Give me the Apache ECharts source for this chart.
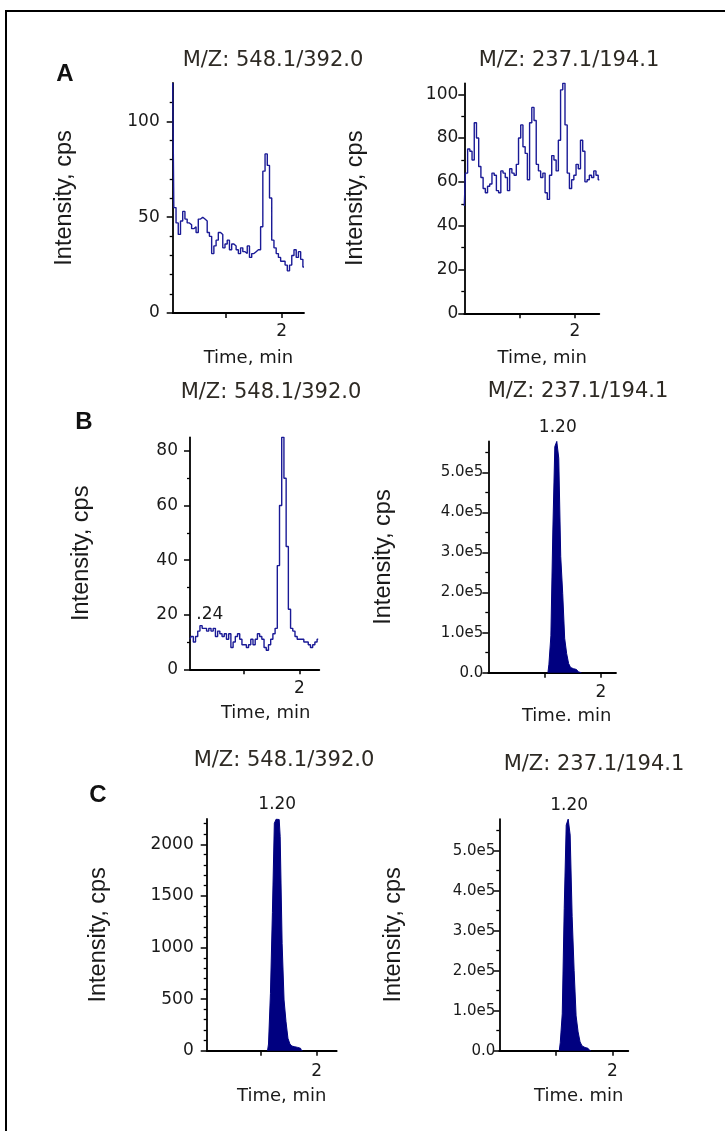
<!DOCTYPE html>
<html>
<head>
<meta charset="utf-8">
<script src="https://cdn.jsdelivr.net/npm/echarts@6/dist/echarts.min.js"></script>
<style>
  html, body { margin: 0; background: #fff; }
  #chart { width: 725px; height: 1131px; }
</style>
</head>
<body>
<div id="chart"></div>
<script>
// sampled chromatogram traces (intensity, cps), time in min
const aLeftStart = 0.04, aLeftStep = 0.04;
const aLeftIntensity = [120, 55, 47, 41, 48, 53, 49, 47, 46, 44, 45, 42, 49, 50, 49, 48, 42, 40, 31, 35,
  38, 42, 41, 34, 36, 38, 33, 36, 35, 33, 31, 34, 32, 31, 35, 29, 31, 32, 33, 33,
  45, 74, 83, 77, 60, 38, 34, 31, 29, 27, 27, 25, 22, 25, 30, 33, 29, 32, 28, 24];

const aRightStart = 0, aRightStep = 0.04;
const aRightIntensity = [49, 64, 75, 74, 70, 87, 80, 67, 62, 57, 55, 58, 59, 64, 63, 56, 55, 65, 64, 62,
  56, 66, 64, 63, 68, 80, 86, 76, 73, 61, 87, 94, 88, 68, 65, 62, 64, 55, 52, 63,
  72, 70, 65, 79, 102, 105, 86, 64, 57, 61, 63, 68, 66, 79, 74, 60, 61, 63, 62, 65, 63, 61];

const bLeftStart = 0.02, bLeftStep = 0.04;
const bLeftIntensity = [11, 12, 10, 12, 14, 16, 15, 15, 14, 15, 14, 15, 12, 14, 13, 12, 13, 11, 13, 8,
  10, 12, 13, 11, 9, 9, 8, 9, 11, 9, 11, 13, 12, 11, 8, 7, 9, 11, 13, 15,
  38, 60, 85, 70, 45, 22, 15, 14, 12, 11, 11, 11, 10, 10, 9, 8, 9, 10, 11];

const bRightStart = 1.06, bRightStep = 0.035;
const bRightIntensity = [0, 2.1e4, 9.2e4, 3.56e5, 5.64e5, 5.77e5, 5.35e5, 2.9e5, 1.98e5, 8.6e4,
  4.8e4, 2.3e4, 1.3e4, 1.0e4, 8e3, 4e3, 2e3, 0];

const cLeftStart = 1.115, cLeftStep = 0.035;
const cLeftIntensity = [0, 65, 556, 1338, 2204, 2245, 2240, 2074, 1040, 491, 281, 120, 65, 45, 38, 32, 28, 23, 0];

const cRightStart = 1.06, cRightStep = 0.035;
const cRightIntensity = [0, 2.0e4, 9.2e4, 3.56e5, 5.64e5, 5.79e5, 5.39e5, 3.35e5, 2.0e5, 8.7e4,
  4.7e4, 2.2e4, 1.2e4, 8e3, 6e3, 3e3, 0];

// axis ticks
const timeTicks = [1, 2];
const timeLabels = [2];
const ticksA1 = [0, 50, 100];
const ticksA2 = [0, 20, 40, 60, 80, 100];
const ticksB1 = [0, 20, 40, 60, 80];
const ticksE5 = [0, 1e5, 2e5, 3e5, 4e5, 5e5];
const ticksC1 = [0, 500, 1000, 1500, 2000];

const titleLeft = "M/Z: 548.1/392.0";
const titleRight = "M/Z: 237.1/194.1";

const toPairs = (t0, dt, vals) => vals.map((v, i) => [+(t0 + i * dt).toFixed(3), v]);
const e5 = (v) => (v ? (v / 1e5).toFixed(1) + "e5" : "0.0");

const panels = [
  { grid: { left: 172.7, top: 83, width: 131.3, height: 230 }, x: [0.04, 2.40], yMax: 120, ticks: ticksA1, minor: 5,
    data: toPairs(aLeftStart, aLeftStep, aLeftIntensity), fill: false, labelMargin: 13, labelSize: 17, nameGap: 96,
    xName: "Time, min", xShift: 20, xNameGap: 36, xLabelMargin: 10 },
  { grid: { left: 464.3, top: 83.3, width: 135, height: 230 }, x: [0, 2.44], yMax: 105, ticks: ticksA2, minor: 2,
    data: toPairs(aRightStart, aRightStep, aRightIntensity), fill: false, labelMargin: 6, labelSize: 17, nameGap: 97,
    xName: "Time, min", xShift: 21, xNameGap: 36, xLabelMargin: 10 },
  { grid: { left: 190, top: 437.3, width: 129.3, height: 232 }, x: [0.02, 2.36], yMax: 85, ticks: ticksB1, minor: 2,
    data: toPairs(bLeftStart, bLeftStep, bLeftIntensity), fill: false, labelMargin: 12, labelSize: 17, nameGap: 96,
    xName: "Time, min", xShift: 22, xNameGap: 35, xLabelMargin: 11, note: { index: 9, text: ".24" } },
  { grid: { left: 488.3, top: 441.4, width: 127.7, height: 231.3 }, x: [0, 2.27], yMax: 5.77e5, ticks: ticksE5, minor: 2,
    data: toPairs(bRightStart, bRightStep, bRightIntensity), fill: true, labelMargin: 5, labelSize: 15, fmt: e5, nameGap: 93,
    xName: "Time. min", xShift: 29, xNameGap: 35, xLabelMargin: 11, peak: "1.20" },
  { grid: { left: 206.7, top: 819, width: 130, height: 231.7 }, x: [0.02, 2.36], yMax: 2245, ticks: ticksC1, minor: 5,
    data: toPairs(cLeftStart, cLeftStep, cLeftIntensity), fill: true, labelMargin: 13, labelSize: 17, nameGap: 96,
    xName: "Time, min", xShift: 20, xNameGap: 37, xLabelMargin: 12, peak: "1.20" },
  { grid: { left: 499.3, top: 819.1, width: 129, height: 231.6 }, x: [0, 2.28], yMax: 5.79e5, ticks: ticksE5, minor: 2,
    data: toPairs(cRightStart, cRightStep, cRightIntensity), fill: true, labelMargin: 4, labelSize: 15, fmt: e5, nameGap: 94,
    xName: "Time. min", xShift: 30, xNameGap: 37, xLabelMargin: 12, peak: "1.20" },
];

const grids = [], xAxes = [], yAxes = [], series = [];

panels.forEach((p, i) => {
  grids.push({ ...p.grid, containLabel: false, outerBoundsMode: "none" });

  xAxes.push({
    type: "value", gridIndex: i, min: p.x[0], max: p.x[1],
    splitLine: { show: false },
    axisLine: { show: true, onZero: false, lineStyle: { color: "#000", width: 1.8 } },
    axisTick: { show: true, customValues: timeTicks, length: 5, lineStyle: { color: "#000", width: 1.5 } },
    axisLabel: { customValues: timeLabels, margin: p.xLabelMargin, color: "#1a1a1a", fontFamily: "DejaVu Sans", fontSize: 17 },
    name: p.xName, nameLocation: "middle", nameGap: p.xNameGap,
    nameTextStyle: { color: "#1a1a1a", fontFamily: "DejaVu Sans", fontSize: 18, padding: [0, 0, 0, p.xShift] },
  });

  yAxes.push({
    type: "value", gridIndex: i, min: 0, max: p.yMax, interval: p.ticks[1],
    splitLine: { show: false },
    axisLine: { show: true, lineStyle: { color: "#000", width: 1.8 } },
    axisTick: { show: true, customValues: p.ticks, length: 6, lineStyle: { color: "#000", width: 1.5 } },
    minorTick: { show: true, splitNumber: p.minor, length: 3, lineStyle: { color: "#000", width: 1.3 } },
    axisLabel: {
      customValues: p.ticks, margin: p.labelMargin, color: "#1a1a1a",
      fontFamily: "DejaVu Sans", fontSize: p.labelSize, formatter: p.fmt || ((v) => String(v)),
    },
    name: "Intensity, cps", nameLocation: "middle", nameRotate: 90, nameGap: p.nameGap,
    nameTextStyle: { color: "#1a1a1a", fontFamily: "Liberation Sans", fontSize: 23.5 },
  });

  const s = {
    type: "line", xAxisIndex: i, yAxisIndex: i, data: p.data, step: "middle",
    showSymbol: false, clip: true, silent: true,
    lineStyle: { color: p.fill ? "#000080" : "#1a1a96", width: p.fill ? 1 : 1.4 },
  };
  if (p.fill) s.areaStyle = { color: "#000080", opacity: 1 };

  const marks = [];
  if (p.peak) {
    let top = p.data[0];
    p.data.forEach((d) => { if (d[1] > top[1]) top = d; });
    marks.push({ coord: top, label: { formatter: p.peak, distance: 5 } });
  }
  if (p.note) {
    marks.push({ coord: p.data[p.note.index], label: { formatter: p.note.text, distance: 5 } });
  }
  if (marks.length) {
    s.markPoint = {
      symbol: "circle", symbolSize: 1, silent: true,
      itemStyle: { color: "rgba(0,0,0,0)" },
      label: { show: true, position: "top", color: "#1a1a1a", fontFamily: "DejaVu Sans", fontSize: 17 },
      data: marks,
    };
  }
  series.push(s);
});

const titleStyle = { fill: "#2e2a24", font: "21px 'DejaVu Sans'", align: "center", verticalAlign: "middle" };
const letterStyle = { fill: "#111", font: "bold 24px 'Liberation Sans'", align: "center", verticalAlign: "middle" };

const chart = echarts.init(document.getElementById("chart"), null, { renderer: "canvas" });
chart.setOption({
  animation: false,
  backgroundColor: "#fff",
  grid: grids,
  xAxis: xAxes,
  yAxis: yAxes,
  series: series,
  graphic: [
    { type: "rect", silent: true, shape: { x: 6, y: 11, width: 760, height: 1160 },
      style: { fill: "none", stroke: "#000", lineWidth: 2 } },
    { type: "text", x: 273, y: 61, style: { text: titleLeft, ...titleStyle } },
    { type: "text", x: 569, y: 61, style: { text: titleRight, ...titleStyle } },
    { type: "text", x: 271, y: 393, style: { text: titleLeft, ...titleStyle } },
    { type: "text", x: 578, y: 392, style: { text: titleRight, ...titleStyle } },
    { type: "text", x: 284, y: 761, style: { text: titleLeft, ...titleStyle } },
    { type: "text", x: 594, y: 765, style: { text: titleRight, ...titleStyle } },
    { type: "text", x: 65, y: 74, style: { text: "A", ...letterStyle } },
    { type: "text", x: 84, y: 422, style: { text: "B", ...letterStyle } },
    { type: "text", x: 98, y: 795, style: { text: "C", ...letterStyle } },
  ],
});
</script>
</body>
</html>
